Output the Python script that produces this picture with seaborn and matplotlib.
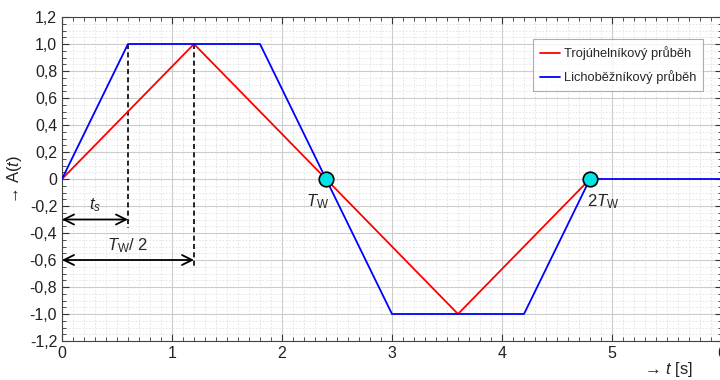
import matplotlib
matplotlib.use("Agg")
import matplotlib.pyplot as plt
import matplotlib.ticker as mticker
import seaborn as sns
import pandas as pd

# Data
tri_t = [0.0, 1.2, 3.6, 4.8]
tri_a = [0.0, 1.0, -1.0, 0.0]
trap_t = [0.0, 0.6, 1.8, 3.0, 4.2, 4.8, 6.0]
trap_a = [0.0, 1.0, 1.0, -1.0, -1.0, 0.0, 0.0]
series_names = ["Trojúhelníkový průběh", "Lichoběžníkový průběh"]
marker_t = [2.4, 4.8]
marker_a = [0.0, 0.0]
dash_t = [0.6, 1.2]
dash_bottom = [-0.36, -0.66]
arrow_y = [-0.3, -0.6]
y_ticks = [-1.2, -1.0, -0.8, -0.6, -0.4, -0.2, 0.0, 0.2, 0.4, 0.6, 0.8, 1.0, 1.2]
x_ticks = [0, 1, 2, 3, 4, 5, 6]

sns.set_theme(style="white")
plt.rcParams['font.family'] = ['Liberation Sans', 'DejaVu Sans']
plt.rcParams['mathtext.fontset'] = 'custom'
plt.rcParams['mathtext.it'] = 'Liberation Sans:italic'
plt.rcParams['mathtext.rm'] = 'Liberation Sans'

df = pd.concat([
    pd.DataFrame({"t": tri_t, "A": tri_a, "s": series_names[0]}),
    pd.DataFrame({"t": trap_t, "A": trap_a, "s": series_names[1]}),
])

W, H = 720, 380
L, R, T, B = 62, 722, 17, 341
fig = plt.figure(figsize=(7.2, 3.8), dpi=100)
ax = fig.add_axes([L/W, 1 - B/H, (R - L)/W, (B - T)/H])

sns.lineplot(data=df, x="t", y="A", hue="s", palette=["#ff0000", "#0000ff"],
             sort=False, estimator=None, lw=1.3, ax=ax, zorder=3)

# dashed verticals
for xt, yb in zip(dash_t, dash_bottom):
    ax.plot([xt, xt], [1.0, yb], color="black", ls=(0, (3, 2)), lw=1.2, zorder=2)

# double arrows
for xt, yy in zip(dash_t, arrow_y):
    ax.annotate("", xy=(0, yy), xytext=(xt, yy),
                arrowprops=dict(arrowstyle="<->,head_length=0.6,head_width=0.3",
                                color="black", lw=1.3, shrinkA=0, shrinkB=0), zorder=4)

ax.text(0.3, -0.26, r"$t_s$", ha="center", va="bottom", fontsize=12)
ax.text(0.6, -0.56, r"$T_{\mathrm{W}}$/ 2", ha="center", va="bottom", fontsize=12)
ax.text(2.32, -0.1, r"$T_{\mathrm{W}}$", ha="center", va="top", fontsize=12)
ax.text(4.92, -0.1, r"2$T_{\mathrm{W}}$", ha="center", va="top", fontsize=12)

sns.scatterplot(x=marker_t, y=marker_a, s=110, color="#00e5e5", edgecolor="black",
                linewidth=1.2, ax=ax, zorder=5, legend=False)

ax.set_xlim(0, 6)
ax.set_ylim(-1.2, 1.2)
ax.set_xticks(x_ticks)
ax.set_yticks(y_ticks)
ax.set_xticklabels([str(v) for v in x_ticks])
ax.set_yticklabels([("%.1f" % v).replace(".", ",") if abs(v) > 1e-9 else "0" for v in y_ticks])
ax.xaxis.set_minor_locator(mticker.MultipleLocator(0.1))
ax.yaxis.set_minor_locator(mticker.MultipleLocator(0.05))
ax.grid(which="major", color="#cccccc", lw=0.8, zorder=0)
ax.grid(which="minor", color="#e0e0e0", lw=0.6, ls=(0, (2, 2)), zorder=0)
ax.set_axisbelow(True)
ax.tick_params(which="both", direction="in", top=True, right=True, bottom=True, left=True,
               colors="#333333", labelcolor="#222222", labelsize=11.5)
ax.tick_params(which="major", length=5, width=0.8)
ax.tick_params(which="minor", length=3, width=0.6)
for sp in ax.spines.values():
    sp.set_color("#444444")
    sp.set_linewidth(0.8)

ax.set_xlabel("→ $t$ [s]", fontsize=12, color="#222222")
ax.xaxis.set_label_coords((668 - L)/(R - L), -(360 - B)/(B - T))
ax.set_ylabel("→ A($t$)", fontsize=12, color="#222222")
ax.yaxis.set_label_coords((24 - L)/(R - L), 0.5)

leg = ax.legend(loc="upper right",
                bbox_to_anchor=((703 - L)/(R - L), 1 - (39 - T)/(B - T)),
                borderaxespad=0,
                frameon=True, fancybox=False, fontsize=9.3, handlelength=1.6,
                borderpad=0.55, labelspacing=0.8, handletextpad=0.25)
leg.get_frame().set_edgecolor("#999999")
leg.get_frame().set_linewidth(0.8)
leg.set_title(None)

fig.savefig("out.png", dpi=100)
